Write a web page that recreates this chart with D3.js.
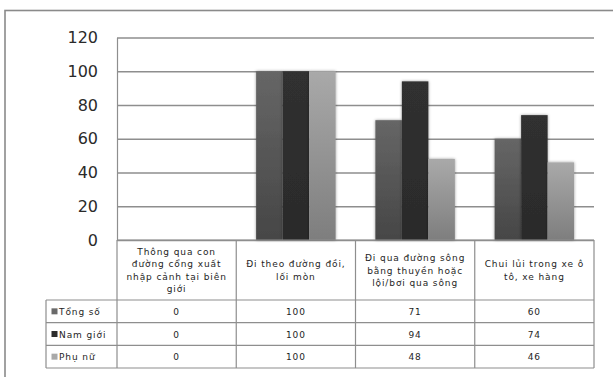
<!DOCTYPE html>
<html>
<head>
<meta charset="utf-8">
<script src="https://cdn.jsdelivr.net/npm/d3@7"></script>
<style>
  html, body { margin: 0; padding: 0; background: #fff; }
  svg { display: block; }
</style>
</head>
<body>
<svg id="chart" width="613" height="377"></svg>
<script>
// Routes taken across the border (category labels, one array entry per line)
const categories = [
  "Thông qua con đường cổng xuất nhập cảnh tại biên giới",
  "Đi theo đường đồi, lối mòn",
  "Đi qua đường sông bằng thuyền hoặc lội/bơi qua sông",
  "Chui lủi trong xe ô tô, xe hàng"
];
const categoryLines = [
  ["Thông qua con", "đường cổng xuất", "nhập cảnh tại biên", "giới"],
  ["Đi theo đường đồi,", "lối mòn"],
  ["Đi qua đường sông", "bằng thuyền hoặc", "lội/bơi qua sông"],
  ["Chui lủi trong xe ô", "tô, xe hàng"]
];
const seriesNames = ["Tổng số", "Nam giới", "Phụ nữ"];
const tongSo  = [0, 100, 71, 60];
const namGioi = [0, 100, 94, 74];
const phuNu   = [0, 100, 48, 46];
const yTicks  = [0, 20, 40, 60, 80, 100, 120];

const seriesValues = [tongSo, namGioi, phuNu];
const swatch = ["#6a6a6a", "#2c2c2c", "#a9a9a9"];
const gradTop = ["#666666", "#303030", "#a9a9a9"];
const gradBot = ["#464646", "#2b2b2b", "#7e7e7e"];

const svg = d3.select("#chart");
const plotLeft = 117, plotRight = 594, plotTop = 37.5, base = 240;
const catRowBottom = 300, tableBottom = 368, legendLeft = 46;
const gridColor = "#8e8e8e";

const defs = svg.append("defs");
seriesNames.forEach((s, i) => {
  const g = defs.append("linearGradient")
    .attr("id", "grad" + i).attr("x1", 0).attr("y1", 0).attr("x2", 0).attr("y2", 1);
  g.append("stop").attr("offset", "0%").attr("stop-color", gradTop[i]);
  g.append("stop").attr("offset", "100%").attr("stop-color", gradBot[i]);
});
const f = defs.append("filter").attr("id", "shadow")
  .attr("x", "-30%").attr("y", "-10%").attr("width", "160%").attr("height", "120%");
f.append("feDropShadow").attr("dx", 0).attr("dy", 0)
  .attr("stdDeviation", 1.6).attr("flood-color", "#000").attr("flood-opacity", 0.4);

// Outer frame
svg.append("rect")
  .attr("x", 5).attr("y", 10.5).attr("width", 700).attr("height", 500)
  .attr("fill", "none").attr("stroke", "#8a8a8a").attr("stroke-width", 1.6);

const y = d3.scaleLinear().domain([0, 120]).range([base, plotTop]);
const x0 = d3.scaleBand().domain(categories).range([plotLeft, plotRight]).padding(0);
const x1 = d3.scaleBand().domain(seriesNames).range([0, x0.bandwidth()])
  .paddingInner(0).paddingOuter(0.75);

// Value axis with gridlines
const yAxis = d3.axisLeft(y).tickValues(yTicks)
  .tickSize(-(plotRight - plotLeft)).tickSizeOuter(0).tickPadding(19);
const ga = svg.append("g").attr("transform", `translate(${plotLeft},0)`).call(yAxis);
ga.selectAll(".tick line").attr("stroke", gridColor).attr("stroke-width", 1.3);
ga.select(".domain").attr("stroke", gridColor).attr("stroke-width", 1.2);
ga.selectAll(".tick text")
  .attr("font-family", "DejaVu Sans").attr("font-size", 16).attr("fill", "#2a2a2a");

// Bars
const groups = svg.append("g").selectAll("g")
  .data(categories).join("g")
  .attr("transform", d => `translate(${x0(d)},0)`);
groups.selectAll("rect")
  .data((c, ci) => seriesNames.map((s, si) => ({ s, si, v: seriesValues[si][ci] })))
  .join("rect")
  .filter(d => d.v > 0)
  .attr("x", d => x1(d.s))
  .attr("width", x1.bandwidth())
  .attr("y", d => y(d.v))
  .attr("height", d => y(0) - y(d.v))
  .attr("fill", d => `url(#grad${d.si})`)
  .attr("filter", "url(#shadow)");

// Data table under the plot
const rowY = d3.scaleBand().domain(seriesNames).range([catRowBottom, tableBottom]);
const table = svg.append("g").attr("stroke", gridColor).attr("stroke-width", 1.2);
table.append("line").attr("x1", plotLeft).attr("x2", plotRight).attr("y1", base).attr("y2", base);
seriesNames.forEach(s => {
  table.append("line").attr("x1", legendLeft).attr("x2", plotRight)
    .attr("y1", rowY(s)).attr("y2", rowY(s));
});
table.append("line").attr("x1", legendLeft).attr("x2", plotRight)
  .attr("y1", tableBottom).attr("y2", tableBottom);
table.append("line").attr("x1", legendLeft).attr("x2", legendLeft)
  .attr("y1", catRowBottom).attr("y2", tableBottom);
table.append("line").attr("x1", plotLeft).attr("x2", plotLeft)
  .attr("y1", base).attr("y2", tableBottom);
categories.forEach(c => {
  const xr = x0(c) + x0.bandwidth();
  table.append("line").attr("x1", xr).attr("x2", xr)
    .attr("y1", base).attr("y2", tableBottom);
});

const textStyle = sel => sel
  .attr("font-family", "DejaVu Sans").attr("font-size", 9)
  .attr("letter-spacing", 0.9).attr("fill", "#1e1e1e");

// Category labels
const lineH = 12.2;
categories.forEach((c, i) => {
  const lines = categoryLines[i];
  const cy = (base + catRowBottom) / 2;
  const t = svg.append("text").call(textStyle)
    .attr("text-anchor", "middle");
  lines.forEach((ln, k) => {
    t.append("tspan")
      .attr("x", x0(c) + x0.bandwidth() / 2)
      .attr("y", cy + (k - (lines.length - 1) / 2) * lineH + 3.5)
      .text(ln);
  });
});

// Legend keys and values
seriesNames.forEach((s, si) => {
  const cy = rowY(s) + rowY.bandwidth() / 2;
  svg.append("rect")
    .attr("x", legendLeft + 5.5).attr("y", cy - 3).attr("width", 6).attr("height", 6)
    .attr("fill", swatch[si]);
  svg.append("text").call(textStyle)
    .attr("x", legendLeft + 13).attr("y", cy + 3.5)
    .text(s);
  categories.forEach((c, ci) => {
    svg.append("text").call(textStyle)
      .attr("text-anchor", "middle")
      .attr("x", x0(c) + x0.bandwidth() / 2).attr("y", cy + 3.5)
      .text(seriesValues[si][ci]);
  });
});
</script>
</body>
</html>
